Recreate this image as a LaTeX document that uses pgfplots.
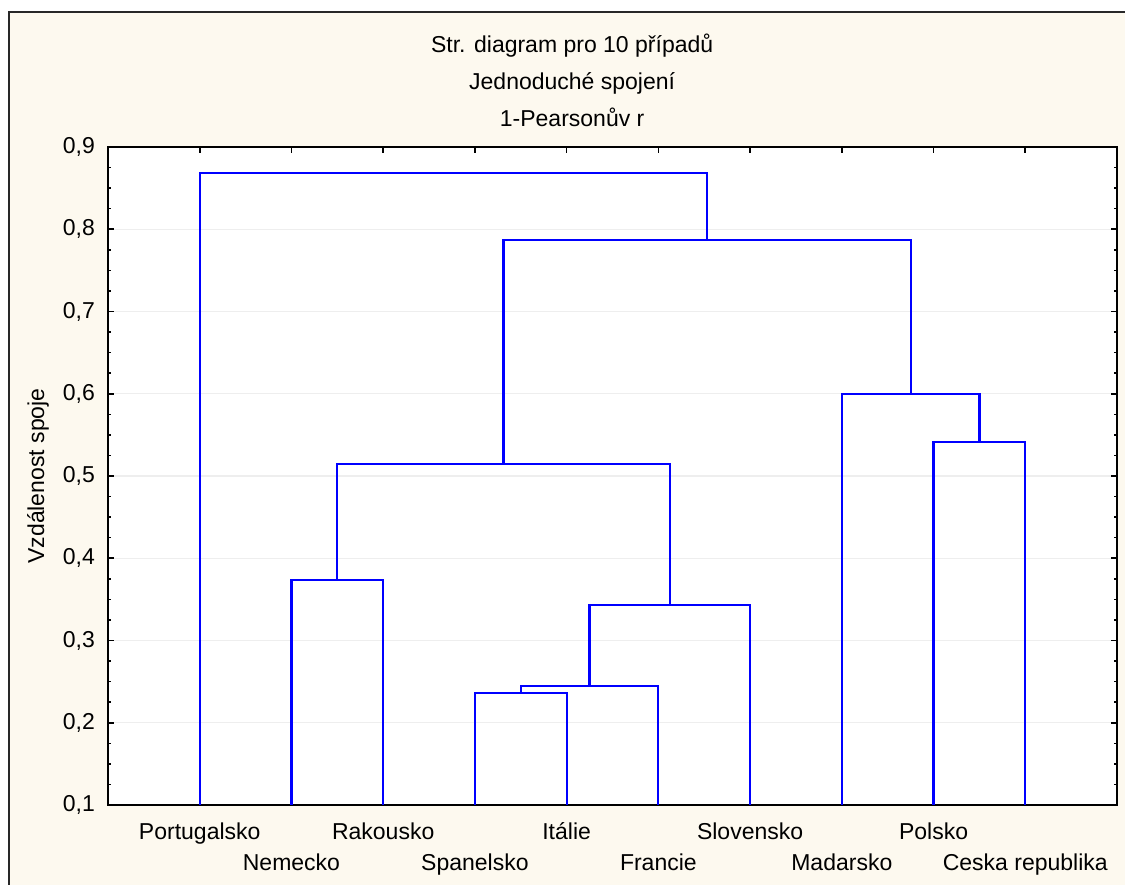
\documentclass[border=0pt]{standalone}
\usepackage{pgfplots}
\pgfplotsset{compat=1.18}
\usepackage{fontspec}
\setmainfont{Liberation Sans}

\definecolor{bgcream}{RGB}{253,249,239}
\definecolor{framegray}{RGB}{40,40,40}
\definecolor{gridgray}{RGB}{238,238,238}

\begin{document}
\begin{tikzpicture}
  % cream page background and its frame
  \fill[bgcream] (-49.5pt,-45pt) rectangle (520pt,396.5pt);
  \draw[line width=1pt, framegray] (-49.5pt,-45pt) -- (-49.5pt,396.5pt) -- (520pt,396.5pt);

  \begin{axis}[
    scale only axis,
    width=504.5pt, height=329pt,
    xmin=0, xmax=11,
    ymin=0.1, ymax=0.9,
    axis background/.style={fill=white},
    axis line style={line width=0.8pt, black},
    tick style={line width=0.8pt, black},
    tick align=inside,
    major tick length=3pt,
    minor tick length=1.3pt,
    xtick={1,2,3,4,5,6,7,8,9,10},
    xticklabels={Portugalsko,\raisebox{-15.5pt}{Nemecko},Rakousko,\raisebox{-15.5pt}{Spanelsko},Itálie,
                 \raisebox{-15.5pt}{Francie},Slovensko,\raisebox{-15.5pt}{Madarsko},Polsko,\raisebox{-15.5pt}{Ceska republika}},
    xticklabel style={anchor=base, yshift=-17pt, font=\fontsize{11.5}{13}\selectfont},
    ytick={0.1,0.2,0.3,0.4,0.5,0.6,0.7,0.8,0.9},
    minor y tick num=3,
    yticklabel style={font=\fontsize{11.5}{13}\selectfont, xshift=-3pt},
    /pgf/number format/.cd, use comma, fixed, fixed zerofill, precision=1, assume math mode=true,
    /pgfplots/.cd,
    ymajorgrids,
    major grid style={gridgray, line width=0.6pt},
    ylabel={Vzdálenost spoje},
    ylabel style={at={(axis description cs:-0.0694,0.5)}, anchor=center, font=\fontsize{11.5}{13}\selectfont},
    title={Str. diagram pro 10 případů\\Jednoduché spojení\\1-Pearsonův r},
    title style={at={(axis description cs:0.46,1)}, anchor=center, yshift=27.5pt, align=center,
                 font=\fontsize{11.5}{18.5}\selectfont},
    link/.style={blue, line width=1.1pt, mark=none, solid},
  ]
  % Spanelsko + Italie
  \addplot[link] coordinates {(4,0.1) (4,0.236) (5,0.236) (5,0.1)};
  % + Francie
  \addplot[link] coordinates {(4.5,0.236) (4.5,0.245) (6,0.245) (6,0.1)};
  % + Slovensko
  \addplot[link] coordinates {(5.25,0.245) (5.25,0.343) (7,0.343) (7,0.1)};
  % Nemecko + Rakousko
  \addplot[link] coordinates {(2,0.1) (2,0.374) (3,0.374) (3,0.1)};
  \addplot[link] coordinates {(2.5,0.374) (2.5,0.515) (6.125,0.515) (6.125,0.343)};
  % Polsko + Ceska republika
  \addplot[link] coordinates {(9,0.1) (9,0.541) (10,0.541) (10,0.1)};
  % + Madarsko
  \addplot[link] coordinates {(8,0.1) (8,0.600) (9.5,0.600) (9.5,0.541)};
  \addplot[link] coordinates {(4.3125,0.515) (4.3125,0.787) (8.75,0.787) (8.75,0.600)};
  % + Portugalsko
  \addplot[link] coordinates {(1,0.1) (1,0.868) (6.53125,0.868) (6.53125,0.787)};
  \end{axis}

  \pgfresetboundingbox
  \path[use as bounding box] (-54pt,-39.5pt) rectangle (508.5pt,402.5pt);
\end{tikzpicture}
\end{document}
